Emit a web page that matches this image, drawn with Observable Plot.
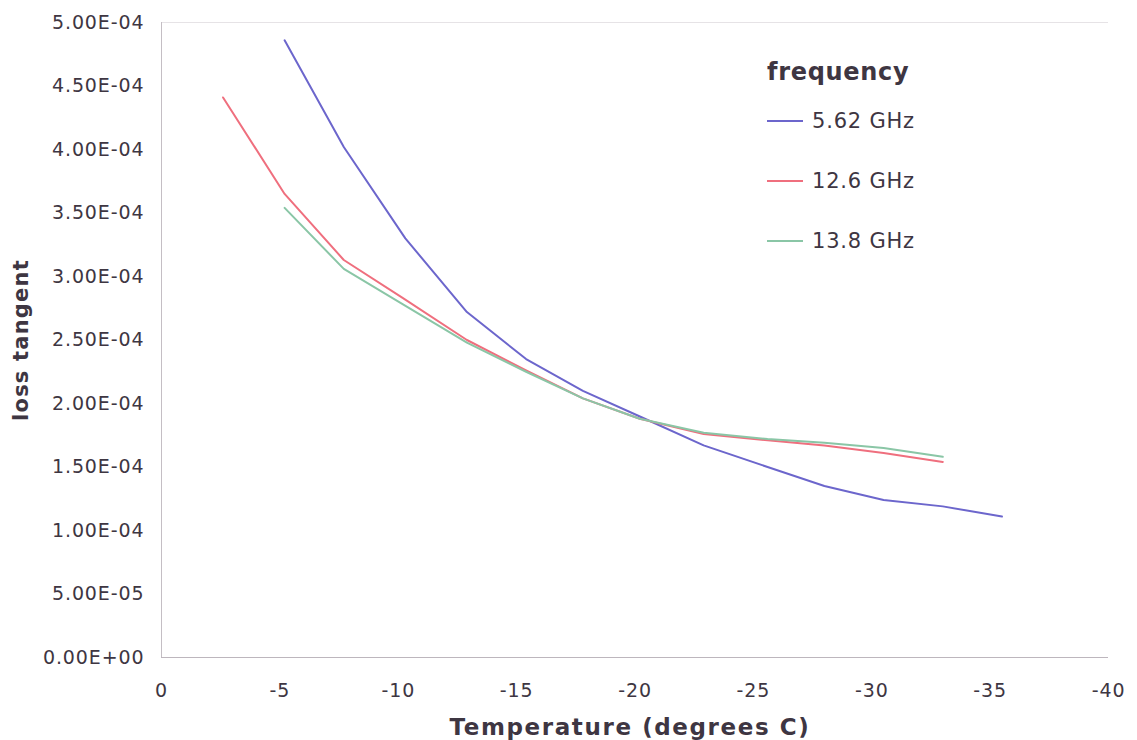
<!DOCTYPE html>
<html>
<head>
<meta charset="utf-8">
<script src="https://cdn.jsdelivr.net/npm/d3@7"></script>
<script src="https://cdn.jsdelivr.net/npm/@observablehq/plot@0.6"></script>
<style>
  body { margin: 0; background: #fff; }
  #chart { position: relative; width: 1137px; height: 740px; font-family: "DejaVu Sans", Verdana, sans-serif; color: #3e3642; }
  #chart svg text { letter-spacing: 0.9px; }
  .title-x, .title-y, .legend-title { position: absolute; font-weight: bold; white-space: nowrap; line-height: 1; }
  .title-x { left: 630px; top: 727px; font-size: 23px; letter-spacing: 1.6px; transform: translate(-50%, -50%); }
  .title-y { left: 21px; top: 340px; font-size: 21px; letter-spacing: 1.2px; transform: translate(-50%, -50%) rotate(-90deg); }
  .legend-title { left: 767px; top: 60px; font-size: 24px; letter-spacing: 0.7px; }
  .legend-row { position: absolute; left: 767px; height: 30px; display: flex; align-items: center; font-size: 21px; letter-spacing: 0.8px; line-height: 30px; white-space: nowrap; }
  .legend-row .swatch { width: 36px; height: 2px; margin-right: 9px; }
</style>
</head>
<body>
<div id="chart"></div>
<script>
// Loss tangent versus temperature, one series per measurement frequency
const seriesNames = ["5.62 GHz", "12.6 GHz", "13.8 GHz"];
const seriesColors = ["#6c66cc", "#ef6f7e", "#8ac6a6"];

const temp562 = [-5.2, -7.7, -10.3, -12.9, -15.4, -17.8, -20.3, -22.9, -25.6, -28.0, -30.5, -33.0, -35.5];
const loss562 = [4.86e-4, 4.02e-4, 3.30e-4, 2.72e-4, 2.35e-4, 2.10e-4, 1.89e-4, 1.67e-4, 1.50e-4, 1.35e-4, 1.24e-4, 1.19e-4, 1.11e-4];

const temp126 = [-2.6, -5.2, -7.7, -10.2, -12.9, -15.4, -17.8, -20.2, -22.9, -25.6, -28.0, -30.5, -33.0];
const loss126 = [4.41e-4, 3.65e-4, 3.13e-4, 2.83e-4, 2.50e-4, 2.26e-4, 2.04e-4, 1.88e-4, 1.76e-4, 1.71e-4, 1.67e-4, 1.61e-4, 1.54e-4];

const temp138 = [-5.2, -7.7, -10.2, -12.9, -15.4, -17.8, -20.2, -22.9, -25.6, -28.0, -30.5, -33.0];
const loss138 = [3.54e-4, 3.06e-4, 2.78e-4, 2.48e-4, 2.25e-4, 2.04e-4, 1.88e-4, 1.77e-4, 1.72e-4, 1.69e-4, 1.65e-4, 1.58e-4];

const xTicks = [0, -5, -10, -15, -20, -25, -30, -35, -40];
const xTickLabels = ["0", "-5", "-10", "-15", "-20", "-25", "-30", "-35", "-40"];
const yTicks = [0, 5e-5, 1e-4, 1.5e-4, 2e-4, 2.5e-4, 3e-4, 3.5e-4, 4e-4, 4.5e-4, 5e-4];
const yTickLabels = ["0.00E+00", "5.00E-05", "1.00E-04", "1.50E-04", "2.00E-04", "2.50E-04", "3.00E-04", "3.50E-04", "4.00E-04", "4.50E-04", "5.00E-04"];

const xTitle = "Temperature (degrees C)";
const yTitle = "loss tangent";
const legendTitle = "frequency";

// Long-form table for the line marks
const temps = [temp562, temp126, temp138];
const losses = [loss562, loss126, loss138];
const rows = seriesNames.flatMap((name, s) =>
  temps[s].map((t, i) => ({series: name, temp: t, loss: losses[s][i]}))
);

const chart = Plot.plot({
  width: 1137,
  height: 740,
  marginLeft: 161,
  marginRight: 29,
  marginTop: 22,
  marginBottom: 83,
  style: {fontFamily: "DejaVu Sans, Verdana, sans-serif", fontSize: "19px", color: "#3e3642", background: "#fff"},
  x: {domain: [0, -40]},
  y: {domain: [0, 5e-4]},
  color: {domain: seriesNames, range: seriesColors},
  marks: [
    // faint top border, darker left and bottom axis lines
    Plot.ruleY([5e-4], {stroke: "#e6e3e6"}),
    Plot.ruleY([0], {stroke: "#bdb6bd"}),
    Plot.ruleX([0], {stroke: "#c4bec4"}),
    Plot.axisX({ticks: xTicks, tickFormat: d => xTickLabels[xTicks.indexOf(d)], tickSize: 0, tickPadding: 26, label: null}),
    Plot.axisY({ticks: yTicks, tickFormat: d => yTickLabels[yTicks.indexOf(d)], tickSize: 0, tickPadding: 17, label: null}),
    Plot.line(rows, {x: "temp", y: "loss", z: "series", stroke: "series", strokeWidth: 2, strokeLinejoin: "round"})
  ]
});

const root = document.getElementById("chart");
root.appendChild(chart);

// Axis titles
const xt = document.createElement("div");
xt.className = "title-x";
xt.textContent = xTitle;
root.appendChild(xt);

const yt = document.createElement("div");
yt.className = "title-y";
yt.textContent = yTitle;
root.appendChild(yt);

// Legend inside the plot area
const lt = document.createElement("div");
lt.className = "legend-title";
lt.textContent = legendTitle;
root.appendChild(lt);

seriesNames.forEach((name, i) => {
  const row = document.createElement("div");
  row.className = "legend-row";
  row.style.top = (106 + i * 60) + "px";
  const sw = document.createElement("span");
  sw.className = "swatch";
  sw.style.background = seriesColors[i];
  const label = document.createElement("span");
  label.textContent = name;
  row.appendChild(sw);
  row.appendChild(label);
  root.appendChild(row);
});
</script>
</body>
</html>
